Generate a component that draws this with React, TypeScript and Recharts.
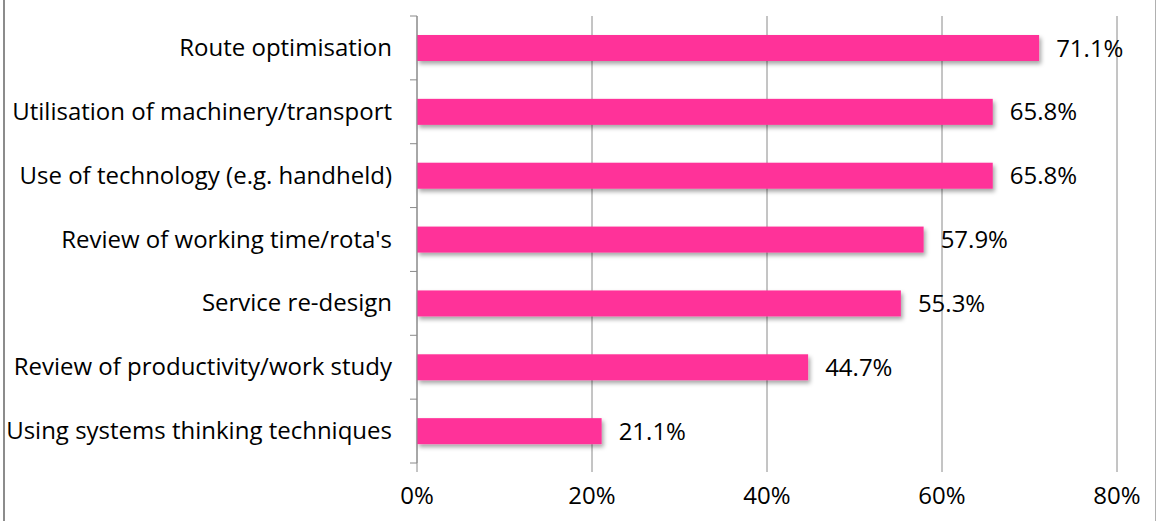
import { BarChart, Bar, XAxis, YAxis, CartesianGrid, LabelList } from 'recharts'

const categories = [
    'Route optimisation',
    'Utilisation of machinery/transport',
    'Use of technology (e.g. handheld)',
    "Review of working time/rota's",
    'Service re-design',
    'Review of productivity/work study',
    'Using systems thinking techniques',
]
const values = [71.1, 65.8, 65.8, 57.9, 55.3, 44.7, 21.1]
const xTicks = [0, 20, 40, 60, 80]

const PINK = '#ff3399'
const GRID = '#8a8a8a'
const FONT = '"Open Sans", "DejaVu Sans", sans-serif'
const FS = 24

const TOP = 16
const BOTTOM_AXIS = 58
const HEIGHT = 521
const BAND = (HEIGHT - TOP - BOTTOM_AXIS) / categories.length

const data = categories.map((name, i) => ({ name, value: values[i] }))

// category label at band centre, tick marks at band edges
function CategoryTick(props: any) {
    const { x, y, payload, index } = props
    const axisX = x + 8
    return (
        <g>
            <text x={x - 17} y={y} dy={8} textAnchor="end" fontSize={FS} fill="#000" fontFamily={FONT}>
                {payload.value}
            </text>
            <line x1={axisX - 7} x2={axisX} y1={y - BAND / 2} y2={y - BAND / 2} stroke={GRID} />
            {index === categories.length - 1 && (
                <line x1={axisX - 7} x2={axisX} y1={y + BAND / 2} y2={y + BAND / 2} stroke={GRID} />
            )}
        </g>
    )
}

function ShadowBar(props: any) {
    const { x, y, width, height } = props
    return <rect x={x} y={y} width={width} height={height} fill={PINK} filter="url(#barShadow)" />
}

export default function App() {
    return (
        <div style={{
            position: 'fixed', left: 0, top: 0, width: 1157, height: 521, background: '#fff',
        }}>
            <div style={{ position: 'absolute', left: 3, top: 0, width: 2, height: 521, background: '#8c8c8c' }} />
            <div style={{ position: 'absolute', left: 1155, top: 0, width: 1, height: 521, background: '#b0b0b0' }} />
            <BarChart
                width={1157}
                height={HEIGHT}
                data={data}
                layout="vertical"
                margin={{ top: TOP, right: 40, bottom: 0, left: 0 }}
                barSize={26}
            >
                <defs>
                    <filter id="barShadow" x="-5%" y="-30%" width="115%" height="180%">
                        <feDropShadow dx={2} dy={3} stdDeviation={2} floodColor="#000" floodOpacity={0.35} />
                    </filter>
                </defs>
                <CartesianGrid horizontal={false} stroke={GRID} strokeWidth={1} />
                <XAxis
                    type="number"
                    domain={[0, 80]}
                    ticks={xTicks}
                    tickFormatter={(v) => `${v}%`}
                    axisLine={false}
                    tickLine={{ stroke: GRID }}
                    tickSize={9}
                    height={BOTTOM_AXIS}
                    tick={{ fontSize: FS, fill: '#000', fontFamily: FONT, dy: 13 }}
                />
                <YAxis
                    type="category"
                    dataKey="name"
                    width={417}
                    axisLine={{ stroke: GRID }}
                    tickLine={false}
                    tick={<CategoryTick />}
                />
                <Bar dataKey="value" isAnimationActive={false} shape={<ShadowBar />}>
                    <LabelList
                        dataKey="value"
                        position="right"
                        offset={17}
                        formatter={(v: any) => `${Number(v).toFixed(1)}%`}
                        style={{ fontSize: FS, fill: '#000', fontFamily: FONT }}
                    />
                </Bar>
            </BarChart>
        </div>
    )
}
